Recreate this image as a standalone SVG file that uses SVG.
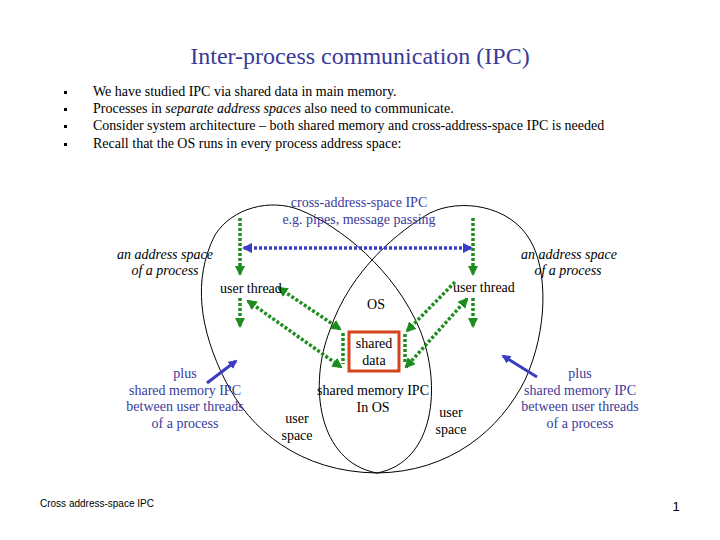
<svg xmlns="http://www.w3.org/2000/svg" width="720" height="540" viewBox="0 0 720 540">
<style>
.t{font-family:"Liberation Serif","Times New Roman",serif;font-size:14px;fill:#000}
.b{fill:#3a3a9a}
.i{font-style:italic}
.m{text-anchor:middle}
.g{stroke:#1e8c1e;stroke-width:3.5;stroke-dasharray:3 2;fill:none}
.bl{stroke:#3c3cc8;stroke-width:3.5;stroke-dasharray:3 2;fill:none}
.bs{stroke:#3c3cc0;stroke-width:3;fill:none}
.loop{fill:none;stroke:#000;stroke-width:1}
</style>
<defs>
<marker id="ga" viewBox="0 0 10 10" refX="8" refY="5" markerWidth="3" markerHeight="3" orient="auto-start-reverse" markerUnits="strokeWidth"><path d="M0,0 L10,5 L0,10 Z" fill="#1e8c1e"/></marker>
<marker id="ba" viewBox="0 0 10 10" refX="8" refY="5" markerWidth="3" markerHeight="3" orient="auto-start-reverse" markerUnits="strokeWidth"><path d="M0,0 L10,5 L0,10 Z" fill="#3c3cc8"/></marker>
</defs>
<rect width="720" height="540" fill="#fff"/>
<text x="360" y="64" class="t m b" style="font-size:24px">Inter-process communication (IPC)</text>
<g id="bullets" class="t">
<rect x="64" y="91" width="3" height="3" fill="#000"/>
<rect x="64" y="108" width="3" height="3" fill="#000"/>
<rect x="64" y="125" width="3" height="3" fill="#000"/>
<rect x="64" y="143" width="3" height="3" fill="#000"/>
<text x="93" y="96">We have studied IPC via shared data in main memory.</text>
<text x="93" y="113">Processes in <tspan class="i">separate address spaces</tspan> also need to communicate.</text>
<text x="93" y="130">Consider system architecture – both shared memory and cross-address-space IPC is needed</text>
<text x="93" y="148">Recall that the OS runs in every process address space:</text>
</g>
<g id="loops">
<path class="loop" d="M377,473 C300,472 250,430 225,380 C200,330 192,280 215,235 C232,208 270,198 300,210 C340,226 395,270 420,330 C442,385 435,462 377,473 Z"/>
<path class="loop" d="M377,473 C450,472 500,430 525,380 C548,330 548,270 530,240 C510,205 460,198 430,213 C400,230 350,270 330,330 C308,385 318,462 377,473 Z"/>
</g>
<g id="connectors">
<line class="bl" x1="244" y1="248" x2="471" y2="248" marker-start="url(#ba)" marker-end="url(#ba)"/>
<line class="g" x1="240" y1="218" x2="240" y2="274" marker-end="url(#ga)"/>
<line class="g" x1="240" y1="298" x2="240" y2="326" marker-end="url(#ga)"/>
<line class="g" x1="473" y1="218" x2="473" y2="274" marker-end="url(#ga)"/>
<line class="g" x1="473" y1="298" x2="473" y2="326" marker-end="url(#ga)"/>
<line class="g" x1="279" y1="288" x2="340" y2="329" marker-start="url(#ga)" marker-end="url(#ga)"/>
<line class="g" x1="343" y1="333" x2="343" y2="364"/>
<line class="g" x1="248" y1="301" x2="341" y2="367" marker-start="url(#ga)" marker-end="url(#ga)"/>
<line class="g" x1="455" y1="282" x2="407" y2="331" marker-end="url(#ga)"/>
<line class="g" x1="405" y1="334" x2="405" y2="364"/>
<line class="g" x1="467" y1="299" x2="406" y2="367" marker-start="url(#ga)" marker-end="url(#ga)"/>
<line class="bs" x1="207" y1="383" x2="236" y2="361" marker-end="url(#ba)"/>
<line class="bs" x1="537" y1="377" x2="503" y2="356" marker-end="url(#ba)"/>
</g>
<g id="cross-label" class="t b m">
<text x="359" y="207">cross-address-space IPC</text>
<text x="359" y="224">e.g. pipes, message passing</text>
</g>
<g id="left-space" class="t i m">
<text x="165" y="259">an address space</text>
<text x="165" y="275">of a process</text>
</g>
<g id="right-space" class="t i m">
<text x="569" y="259">an address space</text>
<text x="568" y="275">of a process</text>
</g>
<g id="left-thread" class="t"><text x="220" y="293">user thread</text></g>
<g id="right-thread" class="t"><text x="453" y="292">user thread</text></g>
<g id="os" class="t"><text x="376" y="309" class="m">OS</text></g>
<g id="shared-data">
<rect x="349" y="332" width="50" height="39" fill="none" stroke="#d4431c" stroke-width="3"/>
<text x="374" y="348" class="t m">shared</text>
<text x="374" y="365" class="t m">data</text>
</g>
<g id="os-ipc" class="t m">
<text x="373" y="395">shared memory IPC</text>
<text x="373" y="412">In OS</text>
</g>
<g id="left-user" class="t m">
<text x="297" y="423">user</text>
<text x="297" y="440">space</text>
</g>
<g id="right-user" class="t m">
<text x="451" y="417">user</text>
<text x="451" y="434">space</text>
</g>
<g id="left-plus" class="t b m">
<text x="185" y="378">plus</text>
<text x="185" y="395">shared memory IPC</text>
<text x="185" y="411">between user threads</text>
<text x="185" y="428">of a process</text>
</g>
<g id="right-plus" class="t b m">
<text x="580" y="378">plus</text>
<text x="580" y="395">shared memory IPC</text>
<text x="580" y="411">between user threads</text>
<text x="580" y="428">of a process</text>
</g>
<text x="40" y="507" style="font-family:'Liberation Sans',Arial,sans-serif;font-size:10px">Cross address-space IPC</text>
<text x="676" y="511" text-anchor="middle" style="font-family:'Liberation Sans',Arial,sans-serif;font-size:13px">1</text>
</svg>
